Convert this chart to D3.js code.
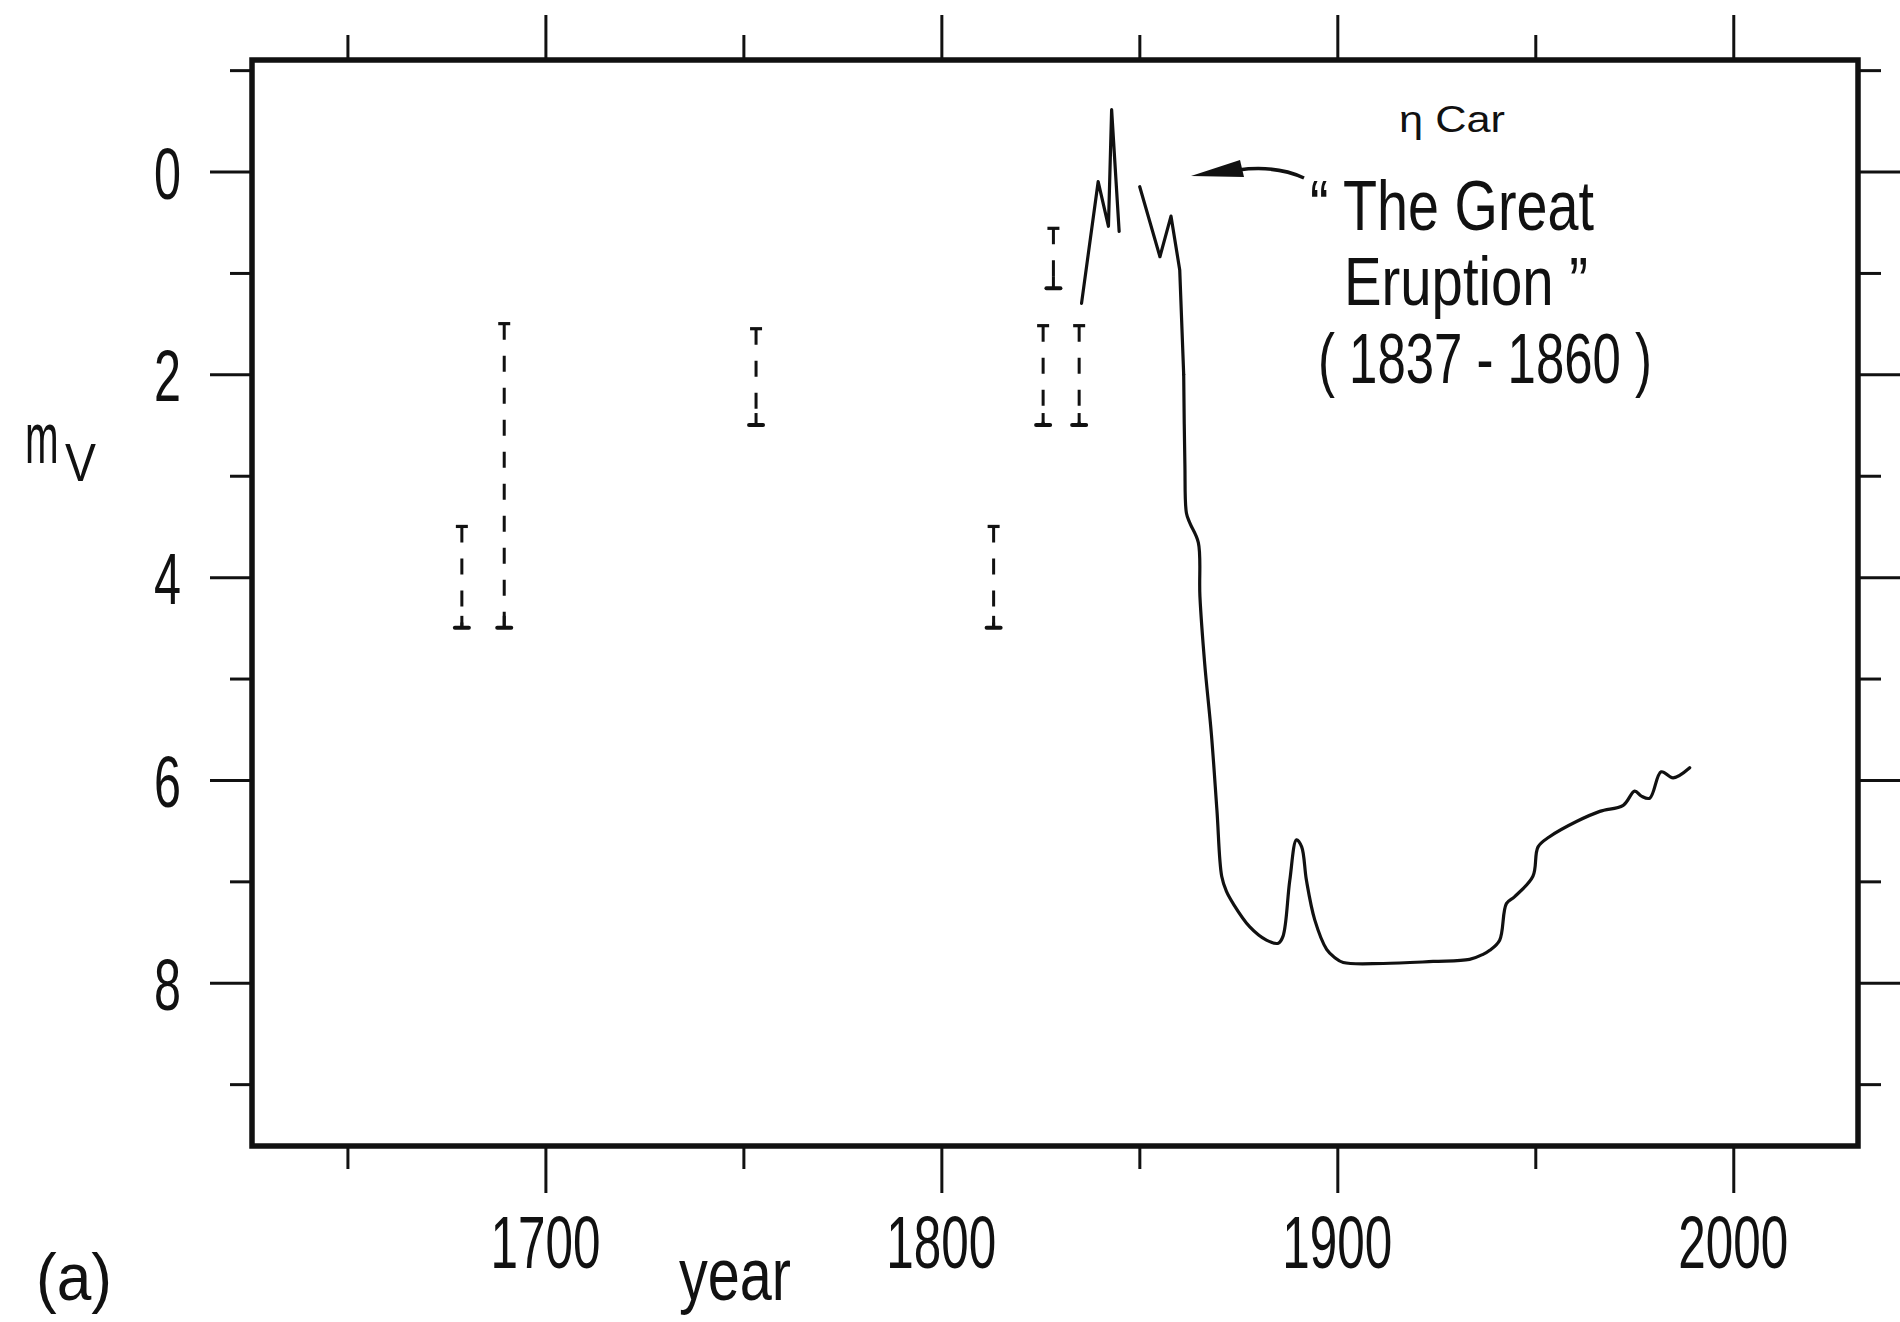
<!DOCTYPE html>
<html><head><meta charset="utf-8">
<script src="https://cdn.jsdelivr.net/npm/d3@7"></script>
<style>html,body{margin:0;padding:0;background:#fff;} svg{display:block;}</style>
</head><body>
<svg id="chart" width="1900" height="1322"></svg>
<script>
// ---- data ----
// light curve, first piece (1835-1845)
const eruptionYears = [1835.4, 1839.6, 1842.2, 1843.0, 1844.9];
const eruptionMags  = [1.30, 0.10, 0.54, -0.61, 0.59];
// light curve, second piece (1850-1989)
const curveYears = [1850.1, 1855.2, 1858.0, 1860.2, 1861.2, 1861.5, 1861.9, 1862.8, 1864.9, 1865.3,
  1866.5, 1868.2, 1869.6, 1870.8, 1872.0, 1873.7, 1877.9, 1882.1, 1885.1, 1886.3, 1888.0, 1889.7,
  1891.0, 1892.2, 1894.3, 1897.3, 1899.3, 1901.5, 1911.6, 1924.2, 1933.4, 1936.8, 1938.5, 1941.0,
  1942.7, 1944.8, 1949.4, 1950.7, 1953.6, 1960.4, 1966.3, 1972.2, 1975.1, 1976.8, 1978.9, 1981.8,
  1984.8, 1989.0];
const curveMags = [0.15, 0.84, 0.44, 0.97, 2.00, 2.88, 3.37, 3.47, 3.66, 4.19,
  4.85, 5.55, 6.30, 6.95, 7.10, 7.22, 7.45, 7.58, 7.61, 7.54, 6.99, 6.59,
  6.66, 6.99, 7.38, 7.67, 7.75, 7.80, 7.81, 7.79, 7.77, 7.72, 7.68, 7.58,
  7.22, 7.15, 6.95, 6.66, 6.56, 6.41, 6.31, 6.25, 6.11, 6.16, 6.18, 5.92,
  5.98, 5.88];
// historical estimates (range bars)
const obsYears  = [1678.9, 1689.6, 1753.2, 1813.2, 1825.7, 1828.3, 1834.8];
const obsBright = [3.50, 1.50, 1.55, 3.50, 1.52, 0.56, 1.52];
const obsFaint  = [4.50, 4.50, 2.50, 4.50, 2.50, 1.15, 2.50];
// ticks
const yMajorTicks = [0, 2, 4, 6, 8];
const yMinorTicks = [-1, 1, 3, 5, 7, 9];
const xMajorTicks = [1700, 1800, 1900, 2000];
const xMinorTicks = [1650, 1750, 1850, 1950];

// ---- layout ----
const pLeft = 252, pRight = 1858, pTop = 60, pBottom = 1146;
const svg = d3.select('#chart')
  .style('font-family', '"Liberation Sans", Arial, sans-serif');
svg.append('rect').attr('width', 1900).attr('height', 1322).attr('fill', '#fff');

const x = d3.scaleLinear().domain([1625.9, 2031.5]).range([pLeft, pRight]);
const y = d3.scaleLinear().domain([-1.10, 9.61]).range([pTop, pBottom]);
const ink = '#111';

function tickAxis(axis, tx, ty) {
  const g = svg.append('g').attr('transform', `translate(${tx},${ty})`).call(axis);
  g.select('.domain').remove();
  g.selectAll('line').attr('stroke', ink).attr('stroke-width', 3);
  g.selectAll('text').remove();
}
tickAxis(d3.axisLeft(y).tickValues(yMajorTicks).tickSize(42).tickFormat(''), pLeft, 0);
tickAxis(d3.axisLeft(y).tickValues(yMinorTicks).tickSize(22).tickFormat(''), pLeft, 0);
tickAxis(d3.axisRight(y).tickValues(yMajorTicks).tickSize(42).tickFormat(''), pRight, 0);
tickAxis(d3.axisRight(y).tickValues(yMinorTicks).tickSize(23).tickFormat(''), pRight, 0);
tickAxis(d3.axisTop(x).tickValues(xMajorTicks).tickSize(45).tickFormat(''), 0, pTop);
tickAxis(d3.axisTop(x).tickValues(xMinorTicks).tickSize(25).tickFormat(''), 0, pTop);
tickAxis(d3.axisBottom(x).tickValues(xMajorTicks).tickSize(47).tickFormat(''), 0, pBottom);
tickAxis(d3.axisBottom(x).tickValues(xMinorTicks).tickSize(23).tickFormat(''), 0, pBottom);

// frame
svg.append('rect').attr('x', pLeft).attr('y', pTop)
  .attr('width', pRight - pLeft).attr('height', pBottom - pTop)
  .attr('fill', 'none').attr('stroke', ink).attr('stroke-width', 5.5);

// text helper (condensed lettering via textLength)
function label(txt, x0, base, size, width) {
  return svg.append('text').attr('x', x0).attr('y', base)
    .attr('font-size', size).attr('fill', ink)
    .attr('textLength', width).attr('lengthAdjust', 'spacingAndGlyphs')
    .text(txt);
}
// condensed lettering via a horizontal scale
function squeezed(txt, x0, base, size, sx) {
  return svg.append('text').attr('transform', `translate(${x0},${base}) scale(${sx},1)`)
    .attr('font-size', size).attr('fill', ink).text(txt);
}

// tick labels
yMajorTicks.forEach(v => label(String(v), 154, y(v) + 27, 72, 27));
xMajorTicks.forEach(v => label(String(v), x(v) - 55, 1268, 74, 110));

// axis titles
squeezed('m', 25, 463, 72, 0.56);
squeezed('V', 65, 481, 54, 0.86);
label('year', 679, 1300, 74, 112);
label('(a)', 36, 1300, 66, 76);

// range bars
const half = 6, stem = 12;
obsYears.forEach((yr, i) => {
  const xi = x(yr), yt = y(obsBright[i]), yb = y(obsFaint[i]);
  const g = svg.append('g').attr('stroke', ink).attr('fill', 'none');
  g.append('line').attr('x1', xi).attr('x2', xi).attr('y1', yt).attr('y2', yb)
    .attr('stroke-width', 3).attr('stroke-dasharray', '16,16');
  g.append('line').attr('x1', xi).attr('x2', xi).attr('y1', yb - stem).attr('y2', yb)
    .attr('stroke-width', 3);
  g.append('line').attr('x1', xi - half).attr('x2', xi + half).attr('y1', yt).attr('y2', yt)
    .attr('stroke-width', 3.2);
  g.append('line').attr('x1', xi - half - 1).attr('x2', xi + half + 1).attr('y1', yb).attr('y2', yb)
    .attr('stroke-width', 4).attr('stroke-linecap', 'round');
});

// light curve
const pts = curveYears.map((v, i) => [v, curveMags[i]]);
const lineLin = d3.line().x(d => x(d[0])).y(d => y(d[1]));
const lineSmooth = d3.line().x(d => x(d[0])).y(d => y(d[1])).curve(d3.curveCatmullRom.alpha(0.5));
function drawCurve(data, gen) {
  svg.append('path').datum(data).attr('d', gen)
    .attr('fill', 'none').attr('stroke', ink)
    .attr('stroke-width', 3.2).attr('stroke-linejoin', 'round').attr('stroke-linecap', 'round');
}
drawCurve(eruptionYears.map((v, i) => [v, eruptionMags[i]]), lineLin);
drawCurve(pts.slice(0, 5), lineLin);      // jagged part of the eruption
drawCurve(pts.slice(4), lineSmooth);      // decline and recovery

// annotation
label('η Car', 1399, 132, 36, 106);
label('“ The Great', 1310, 230, 70, 284);
label('Eruption ”', 1344, 305, 68, 244);
label('( 1837 - 1860 )', 1318, 383, 70, 334);

svg.append('path').attr('d', 'M1304,178 Q1276,165 1238,170')
  .attr('fill', 'none').attr('stroke', ink).attr('stroke-width', 3.5);
svg.append('path').attr('d', 'M1191,176 L1240,160 L1244,177 Z').attr('fill', ink);
</script>
</body></html>
